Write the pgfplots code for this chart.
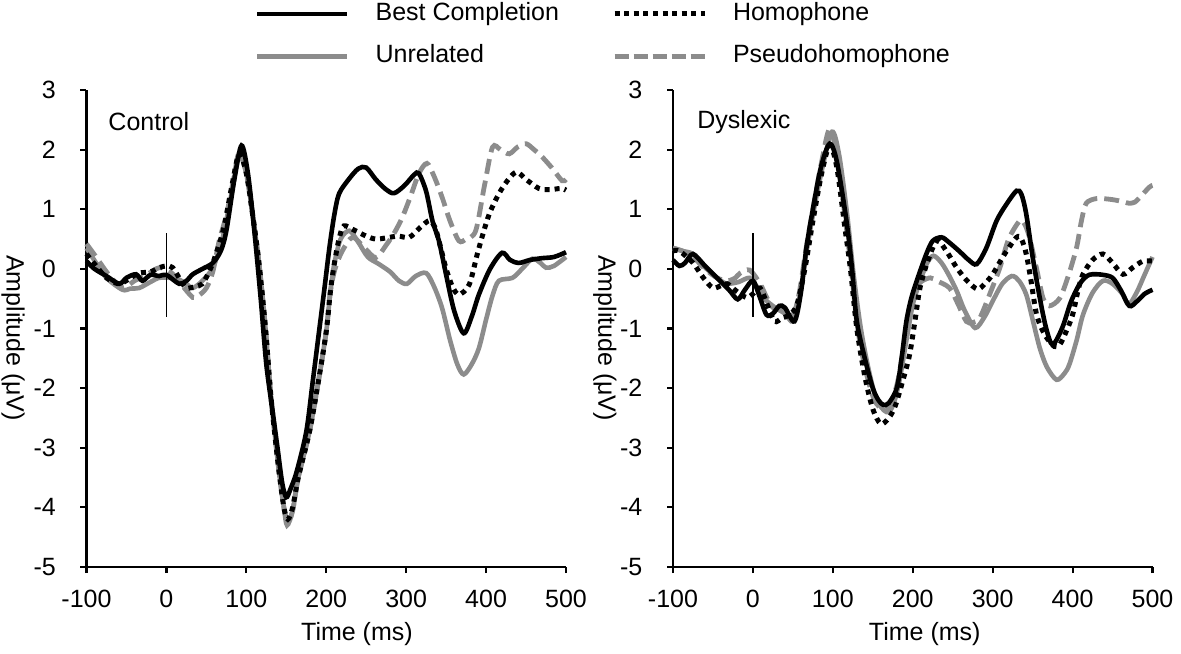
\documentclass[border=0pt]{standalone}
\usepackage{fontspec}
\setmainfont{Liberation Sans}
\usepackage{pgfplots}
\usepackage{pgfplotstable}
\pgfplotsset{compat=1.18}
\definecolor{mgray}{RGB}{140,140,140}

% ---------------- Control ----------------
\pgfplotstableread{
t v
-100 0.13
-90 0.0
-75 -0.12
-59 -0.25
-50 -0.15
-38 -0.09
-30 -0.2
-20 -0.1
-9 -0.12
0 -0.1
16 -0.25
25 -0.2
33 -0.09
45 0.0
58 0.1
68 0.3
75 0.64
85 1.5
94 2.07
102 1.6
110 0.64
118 -0.5
125 -1.6
133 -2.4
139 -3.0
145 -3.6
150 -3.83
155 -3.7
163 -3.4
175 -2.73
183 -1.9
191 -1.05
198 -0.3
204 0.36
210 0.9
216 1.26
228 1.5
240 1.68
250 1.7
262 1.5
275 1.33
285 1.27
298 1.4
310 1.58
316 1.6
325 1.3
333 0.8
341 0.47
350 -0.1
360 -0.7
372 -1.08
382 -0.8
391 -0.43
405 0.0
420 0.27
430 0.15
441 0.1
455 0.15
470 0.18
485 0.2
500 0.28
}\cBest

\pgfplotstableread{
t v
-100 0.25
-88 0.05
-75 -0.15
-59 -0.25
-45 -0.15
-34 -0.07
-20 -0.05
-9 0.02
0 0.05
8 0.02
18 -0.2
25 -0.32
35 -0.3
45 -0.25
55 0.0
62 0.25
72 0.7
82 1.4
91 1.93
100 1.6
108 0.9
116 0.08
124 -1.0
131 -2.17
140 -3.3
147 -4.0
152 -4.2
158 -4.0
165 -3.5
179 -2.73
190 -1.9
200 -1.05
205 -0.4
210 0.08
216 0.5
222 0.72
235 0.65
250 0.55
262 0.5
275 0.52
290 0.55
304 0.53
318 0.7
329 0.81
336 0.7
341 0.47
350 0.0
358 -0.3
366 -0.43
379 -0.26
390 0.3
404 0.92
420 1.35
437 1.62
450 1.5
466 1.35
480 1.33
494 1.35
500 1.32
}\cHomo

\pgfplotstableread{
t v
-100 0.35
-88 0.1
-75 -0.15
-55 -0.35
-45 -0.33
-34 -0.32
-20 -0.22
-9 -0.15
5 -0.15
16 -0.18
25 -0.25
33 -0.32
45 -0.2
58 0.02
70 0.5
82 1.3
91 1.9
100 1.6
108 0.9
116 0.08
124 -1.0
131 -2.17
140 -3.3
147 -4.0
151 -4.3
158 -4.05
165 -3.5
179 -2.73
190 -1.9
200 -1.05
205 -0.4
210 0.08
218 0.5
229 0.64
240 0.45
252 0.2
266 0.08
280 -0.05
291 -0.2
301 -0.25
312 -0.12
325 -0.07
335 -0.3
345 -0.66
355 -1.2
364 -1.6
372 -1.77
382 -1.6
391 -1.33
400 -0.85
408 -0.45
416 -0.2
433 -0.15
445 0.0
458 0.17
468 0.1
475 0.02
485 0.05
500 0.2
}\cUnrel

\pgfplotstableread{
t v
-100 0.42
-88 0.2
-72 -0.1
-55 -0.32
-40 -0.2
-25 -0.1
-9 0.02
5 -0.05
18 -0.25
33 -0.48
40 -0.45
50 -0.32
58 -0.05
66 0.47
75 0.9
84 1.5
91 1.95
100 1.6
108 0.9
116 0.08
124 -1.0
131 -2.17
140 -3.3
147 -4.0
152 -4.25
158 -4.05
165 -3.5
179 -2.73
190 -1.9
200 -1.05
205 -0.4
211 0.0
220 0.3
233 0.53
248 0.35
262 0.19
275 0.4
285 0.6
295 0.86
305 1.2
316 1.6
326 1.77
335 1.55
345 1.2
355 0.8
366 0.47
375 0.5
387 0.64
398 1.4
408 2.04
418 2.0
429 1.93
440 2.05
450 2.1
460 2.0
470 1.88
482 1.7
495 1.48
500 1.5
}\cPseudo

% ---------------- Dyslexic ----------------
\pgfplotstableread{
t v
-100 0.15
-92 0.05
-85 0.1
-75 0.25
-60 0.05
-45 -0.15
-30 -0.35
-19 -0.51
-10 -0.35
0 -0.2
8 -0.45
17 -0.77
25 -0.75
33 -0.62
40 -0.65
52 -0.88
60 -0.4
67 0.36
75 1.0
85 1.7
96 2.1
105 1.8
117 0.81
124 0.0
130 -0.88
140 -1.5
150 -2.0
157 -2.2
163 -2.28
170 -2.25
180 -2.0
186 -1.5
192 -0.88
198 -0.5
205 -0.2
217 0.25
225 0.47
236 0.53
245 0.45
258 0.3
270 0.15
280 0.08
292 0.35
305 0.81
318 1.1
330 1.31
336 1.25
342 0.92
350 0.2
359 -0.49
367 -1.0
375 -1.27
387 -0.99
398 -0.55
409 -0.25
418 -0.12
425 -0.09
438 -0.1
450 -0.15
460 -0.35
471 -0.62
480 -0.55
490 -0.42
500 -0.35
}\dBest

\pgfplotstableread{
t v
-100 0.3
-92 0.3
-75 0.1
-62 -0.15
-50 -0.32
-40 -0.28
-32 -0.25
-20 -0.38
-8 -0.48
0 -0.42
9 -0.32
18 -0.6
27 -0.88
37 -0.82
46 -0.77
55 -0.6
65 0.0
75 0.8
86 1.6
96 2.07
105 1.7
115 0.7
122 0.0
130 -1.0
140 -1.8
150 -2.35
160 -2.6
170 -2.5
178 -2.3
187 -1.9
196 -1.44
203 -0.85
209 -0.32
218 0.1
230 0.47
242 0.3
255 0.02
268 -0.2
281 -0.34
290 -0.25
300 -0.09
315 0.25
330 0.53
336 0.5
342 0.25
348 -0.2
355 -0.77
365 -1.1
377 -1.3
384 -1.27
392 -1.05
400 -0.77
407 -0.35
413 -0.09
425 0.15
438 0.25
450 0.1
463 -0.09
475 0.02
488 0.13
500 0.13
}\dHomo

\pgfplotstableread{
t v
-100 0.35
-88 0.3
-75 0.25
-62 0.05
-50 -0.09
-40 -0.2
-32 -0.25
-18 -0.22
-4 -0.15
5 -0.3
13 -0.48
21 -0.58
29 -0.66
40 -0.75
50 -0.88
58 -0.5
66 0.2
75 0.9
87 1.7
99 2.3
108 1.9
118 0.9
126 -0.1
135 -1.0
145 -1.7
155 -2.2
167 -2.4
175 -2.3
183 -1.9
192 -1.2
200 -0.6
208 -0.25
218 0.1
226 0.22
236 0.1
245 -0.1
255 -0.37
265 -0.7
278 -0.99
290 -0.8
300 -0.54
312 -0.25
324 -0.12
333 -0.2
342 -0.43
350 -0.85
359 -1.33
368 -1.65
380 -1.86
390 -1.75
396 -1.6
405 -1.2
413 -0.77
425 -0.4
438 -0.2
450 -0.25
463 -0.43
470 -0.6
480 -0.4
490 -0.1
500 0.2
}\dUnrel

\pgfplotstableread{
t v
-100 0.35
-88 0.3
-75 0.2
-60 0.0
-45 -0.15
-32 -0.2
-22 -0.15
-16 -0.07
-4 -0.02
9 -0.25
18 -0.5
26 -0.66
38 -0.7
50 -0.77
58 -0.4
66 0.3
75 1.0
86 1.8
96 2.35
105 1.9
115 0.9
123 0.0
131 -1.0
141 -1.7
152 -2.2
163 -2.35
172 -2.25
181 -1.9
190 -1.2
198 -0.6
205 -0.3
212 -0.2
222 -0.15
230 -0.2
246 -0.32
257 -0.6
267 -0.88
275 -0.9
284 -0.82
297 -0.4
309 0.02
320 0.5
334 0.81
340 0.75
346 0.53
355 0.0
363 -0.49
371 -0.62
384 -0.49
395 -0.1
405 0.36
411 0.8
417 1.1
430 1.18
445 1.17
455 1.15
465 1.12
471 1.1
478 1.12
484 1.2
496 1.37
500 1.4
}\dPseudo

\pgfplotsset{
  eeg/.style={
    scale only axis, width=239.75pt, height=238.5pt,
    xmin=-100, xmax=500, ymin=-5, ymax=3,
    axis lines=left, axis line style={-, line width=1.1pt},
    xtick={-100,0,...,500}, ytick={-5,-4,...,3},
    tick align=outside, major tick length=3pt,
    tick style={line width=1.1pt, black},
    /pgf/number format/assume math mode=true,
    ticklabel style={font=\fontsize{12.5}{15}\selectfont},
    yticklabel style={xshift=-8pt},
    xticklabel style={yshift=-4pt},
    label style={font=\fontsize{12.5}{15}\selectfont},
    clip=false,
  },
  sBest/.style={black, line width=2.3pt, smooth},
  sHomo/.style={black, line width=2.5pt, dash pattern=on 2.5pt off 2.5pt, smooth},
  sUnrel/.style={mgray, line width=2.3pt, smooth},
  sPseudo/.style={mgray, line width=2.4pt, dash pattern=on 7.5pt off 3.5pt, smooth},
}

\begin{document}
\fontsize{12.5}{15}\selectfont
\begin{tikzpicture}
\useasboundingbox (0,0) rectangle (590.5pt,-326.5pt);

\begin{axis}[eeg, at={(43.25pt,-283.5pt)}, anchor=south west,
  legend columns=2,
  legend cell align=left,
  legend image code/.code={\draw[#1] (0pt,0pt) -- (45pt,0pt);},
  legend style={draw=none, fill=none, inner sep=0pt, outer sep=0pt,
    at={(axis description cs:0.3514,1.184)}, anchor=north west,
    font=\fontsize{12.5}{15}\selectfont,
    row sep=9.5pt,
    /tikz/every odd column/.append style={column sep=13pt},
    /tikz/every even column/.append style={column sep=26.5pt},
    nodes={inner sep=0pt, text height=9pt, text depth=2.7pt}},
]
\addlegendimage{black, line width=2.3pt}
\addlegendentry{Best Completion}
\addlegendimage{black, line width=2.5pt, dash pattern=on 2.5pt off 2.3pt}
\addlegendentry{Homophone}
\addlegendimage{mgray, line width=2.3pt}
\addlegendentry{Unrelated}
\addlegendimage{mgray, line width=2.4pt, dash pattern=on 7pt off 2.5pt}
\addlegendentry{Pseudohomophone}

\addplot[sPseudo, forget plot] table[x=t, y=v] {\cPseudo};
\addplot[sUnrel, forget plot] table[x=t, y=v] {\cUnrel};
\addplot[sBest, forget plot] table[x=t, y=v] {\cBest};
\addplot[sHomo, forget plot] table[x=t, y=v] {\cHomo};
\addplot[black, line width=0.7pt, forget plot] coordinates {(0,-0.8) (0,0.6)};
\node[anchor=west, inner sep=0pt] at (axis description cs:0.045,0.933) {Control};
\node[rotate=-90] at (axis description cs:-0.153,0.48) {Amplitude (μV)};
\node at (axis description cs:0.564,-0.141) {Time (ms)};
\end{axis}

\begin{axis}[eeg, at={(336.5pt,-283.5pt)}, anchor=south west]
\addplot[sPseudo] table[x=t, y=v] {\dPseudo};
\addplot[sUnrel] table[x=t, y=v] {\dUnrel};
\addplot[sBest] table[x=t, y=v] {\dBest};
\addplot[sHomo] table[x=t, y=v] {\dHomo};
\addplot[black, line width=0.7pt] coordinates {(0,-0.8) (0,0.6)};
\node[anchor=west, inner sep=0pt] at (axis description cs:0.05,0.933) {Dyslexic};
\node[rotate=-90] at (axis description cs:-0.142,0.48) {Amplitude (μV)};
\node at (axis description cs:0.525,-0.141) {Time (ms)};
\end{axis}
\end{tikzpicture}
\end{document}
